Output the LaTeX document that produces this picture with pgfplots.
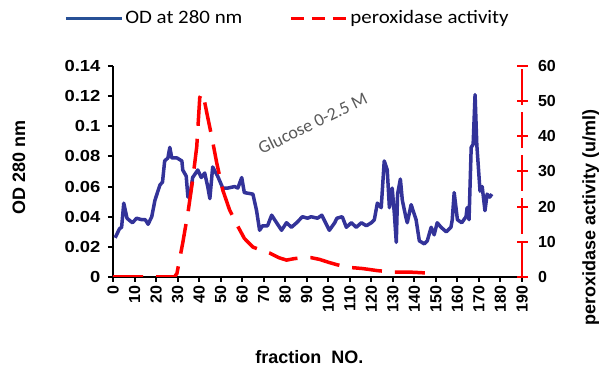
\documentclass[border=0pt]{standalone}
\usepackage{fontspec}
\setmainfont{Liberation Sans}
\newfontfamily\ticksans{Liberation Sans}[FakeStretch=1.15]
\newfontfamily\calib{Carlito}
\newfontfamily\calibw{Carlito}[FakeStretch=1.1]
\usepackage{pgfplots}
\pgfplotsset{compat=1.18}
\definecolor{odblue}{RGB}{51,51,153}
\definecolor{legblue}{RGB}{40,80,150}
\definecolor{pred}{RGB}{255,0,0}
\definecolor{anngray}{RGB}{89,89,89}

\pgfplotstableread{
x y
1 0.026
3 0.032
4 0.033
5 0.049
6.5 0.039
9 0.036
11 0.039
13.4 0.038
15 0.038
16.3 0.035
18 0.040
19.5 0.051
21.8 0.061
23 0.063
24 0.077
25.5 0.079
26.4 0.086
27.3 0.079
29.7 0.079
32 0.077
32.4 0.071
34 0.067
34.8 0.053
35.7 0.053
37 0.066
39.4 0.071
41 0.066
42.6 0.069
44 0.060
45 0.052
46.3 0.073
48.6 0.067
51 0.059
53.3 0.059
56.5 0.060
58 0.059
59.8 0.066
61 0.056
65 0.055
66.7 0.044
68.1 0.031
69.5 0.034
71.8 0.034
73.7 0.041
76 0.036
78.3 0.031
80.6 0.036
82.9 0.033
85.3 0.036
88 0.040
90.4 0.039
92 0.040
95 0.039
97 0.041
100.5 0.031
103 0.036
104 0.039
106.5 0.040
108.4 0.033
110.7 0.036
113 0.033
115.4 0.036
117.7 0.034
120 0.036
121.4 0.038
122.8 0.049
124.6 0.046
126 0.077
127.4 0.071
128.4 0.046
129.7 0.059
130.7 0.042
131.6 0.023
132.2 0.055
133.5 0.065
134.4 0.051
136 0.040
136.7 0.036
138.5 0.048
140.8 0.038
142.3 0.024
144.6 0.022
146 0.024
147.8 0.033
149.2 0.028
150.6 0.036
152.4 0.033
154.8 0.030
157 0.033
157.6 0.038
158.5 0.056
160 0.038
162 0.036
164 0.040
164.5 0.046
165.4 0.038
166.4 0.086
167.3 0.088
168.2 0.121
169 0.088
170.5 0.057
171.5 0.060
172.8 0.044
173.8 0.055
175 0.053
176 0.055
}\odtable

\pgfplotstableread{
x y
0 0
28.5 0
29.7 1
32.4 9.7
34.8 18.2
37 27.6
38.9 37
40.3 51
41.2 52.3
42.5 50
43.6 46.6
45.9 39.8
48.2 32.4
51 24.7
54.2 19
57.9 14.5
61 11
65 8.5
69 7.6
72.8 6.8
77 5.5
80.6 4.8
84 5.2
88 5.5
92 5.5
96 5.0
100 4.2
104 3.5
108.4 2.8
116 2.4
123 1.8
130 1.4
137.6 1.4
144 1.2
150 1.1
}\peroxtable

\begin{document}
\begin{tikzpicture}
\useasboundingbox (0,0) rectangle (600pt,369pt);
\begin{axis}[
  at={(113pt,92pt)}, anchor=south west,
  scale only axis, width=409pt, height=211pt,
  xmin=0, xmax=190, ymin=0, ymax=0.14,
  axis x line*=bottom, axis y line*=left,
  axis line style={line width=2.5pt, -, black},
  xtick={0,10,...,190},
  ytick={0,0.02,0.04,0.06,0.08,0.1,0.12,0.14},
  yticklabels={0,0.02,0.04,0.06,0.08,0.1,0.12,0.14},
  /pgf/number format/assume math mode=true,
  xticklabel style={rotate=90, anchor=east, font=\fontsize{16}{16}\selectfont\bfseries},
  yticklabel style={font=\ticksans\fontsize{16}{16}\selectfont\bfseries, xshift=-4pt},
  tick align=outside, major tick length=5pt,
  tick style={line width=2pt, black},
  xlabel={fraction\ \ NO.},
  xlabel style={at={(axis description cs:0.48,-0.38)}, anchor=center, font=\fontsize{18}{18}\selectfont\bfseries},
  ylabel={OD 280 nm},
  ylabel style={at={(axis description cs:-0.23,0.517)}, anchor=center, font=\fontsize{18}{18}\selectfont\bfseries},
]
\addplot[odblue, line width=3.5pt, line join=round, no markers] table[x=x,y=y] {\odtable};
\node[rotate=26, text=anngray, font=\calib\fontsize{18}{18}\selectfont] at (axis cs:92.7,0.102) {Glucose 0-2.5 M};
\end{axis}
\begin{axis}[
  at={(113pt,92pt)}, anchor=south west,
  scale only axis, width=409pt, height=211pt,
  xmin=0, xmax=190, ymin=0, ymax=60,
  axis y line*=right, axis x line=none,
  y axis line style={draw=pred, line width=2.5pt, dash pattern=on 36pt off 7pt, -},
  ytick={0,10,...,60},
  /pgf/number format/assume math mode=true,
  yticklabel style={font=\fontsize{16}{16}\selectfont\bfseries, text=black, xshift=7pt},
  ytick style={draw=pred, line width=2pt},
  tick align=center, major tick length=11pt,
  ylabel={peroxidase activity (u/ml)},
  ylabel style={at={(axis description cs:1.168,0.28)}, anchor=center, font=\fontsize{18}{18}\selectfont\bfseries},
  legend style={draw=none, fill=none, at={(axis description cs:0.4267,1.2275)}, anchor=center,
    legend columns=2, font=\calibw\fontsize{19}{19}\selectfont,
    /tikz/every even column/.append style={column sep=45pt}},
  legend image code/.code={\draw[#1] (0pt,0pt) -- (56pt,0pt);},
]
\addlegendimage{legblue, line width=3pt}
\addlegendentry{OD at 280 nm}
\addlegendimage{pred, line width=3pt, dash pattern=on 13pt off 8pt}
\addlegendentry{peroxidase activity}
\addplot[pred, line width=3.5pt, dash pattern=on 30pt off 13pt, no markers, forget plot] table[x=x,y=y] {\peroxtable};
\end{axis}
\end{tikzpicture}
\end{document}
